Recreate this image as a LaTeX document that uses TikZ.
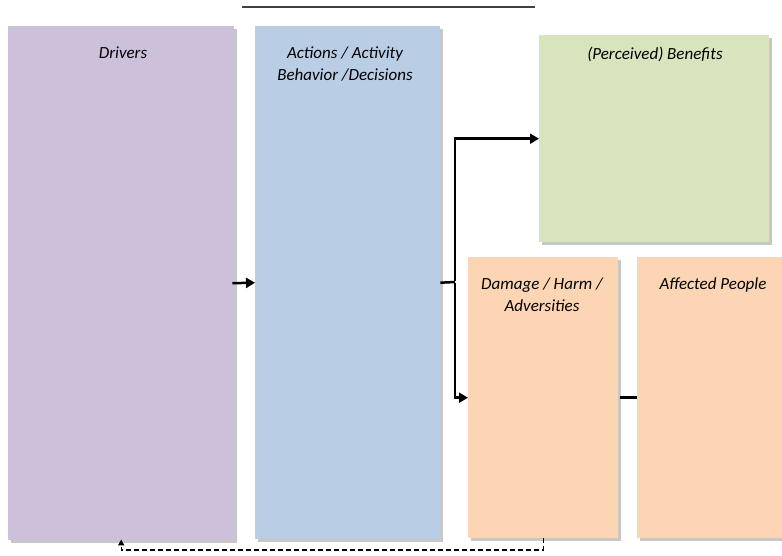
\documentclass[tikz,border=0pt]{standalone}
\usepackage{fontspec}
\setmainfont{Carlito}
\usetikzlibrary{shadows,arrows.meta}
\definecolor{cpurple}{HTML}{CCC0DA}
\definecolor{cblue}{HTML}{B9CDE5}
\definecolor{cgreen}{HTML}{D7E4BD}
\definecolor{corange}{HTML}{FCD5B5}
\tikzset{
  box/.style={anchor=north west, inner sep=0pt, draw=none,
    drop shadow={shadow xshift=3pt, shadow yshift=-3pt, fill=black!22, opacity=1}},
  lbl/.style={anchor=north, align=center, font=\fontsize{17}{22}\selectfont\itshape, inner sep=0pt},
  conn/.style={line width=2.5pt, black},
  arr/.style={conn, -{Triangle[length=9pt,width=10pt]}},
  fb/.style={line width=1.4pt, dash pattern=on 5pt off 3pt, -{Triangle[length=6pt,width=6pt]}}
}
\begin{document}
\begin{tikzpicture}[x=1pt,y=-1pt]
\useasboundingbox (0,0) rectangle (782,556);
\draw[black!75, line width=1.2pt] (242,7) coordinate (tl) -- (535,7) coordinate (tr);
\node[box, fill=cpurple, minimum width=226pt, minimum height=514pt] (drv) at (8,26) {};
\node[box, fill=cblue, minimum width=185pt, minimum height=513pt] (act) at (255,26) {};
\node[box, fill=cgreen, minimum width=230pt, minimum height=207pt] (ben) at (539,35) {};
\node[box, fill=corange, minimum width=150pt, minimum height=281pt] (dam) at (468,257) {};
\node[box, fill=corange, minimum width=148pt, minimum height=281pt] (aff) at (637,257) {};
\node[lbl] (tdrv) at (123,46.5) {Drivers};
\node[lbl] (tact) at (345,46.5) {Actions / Activity\\Behavior /Decisions};
\node[lbl] (tben) at (655,46.5) {(Perceived) Benefits};
\node[lbl] (tdam) at (542,277.5) {Damage / Harm /\\Adversities};
\node[lbl] (taff) at (713,277.5) {Affected People};
\coordinate (split) at (455,282);
\draw[arr] ([xshift=-2pt]drv.east) -- (act.west);
\draw[conn] (act.east) -- (split);
\draw[arr] ([yshift=1.25pt]split) |- (ben.west);
\draw[arr] ([yshift=-1.25pt]split) |- (dam.west);
\draw[conn, line width=3pt] ([xshift=2pt]dam.east) -- (aff.west);
\coordinate (fbc) at (0,550);
\draw[fb] (dam.south) -- (dam.south |- fbc) -| ([yshift=1pt]drv.south);
\end{tikzpicture}
\end{document}
